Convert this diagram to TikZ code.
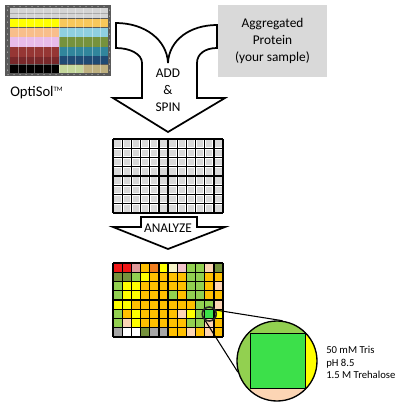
\documentclass[tikz,border=0pt]{standalone}
\usepackage{fontspec}
\setmainfont{Carlito}
\usepackage{tikz}
% colours of the screenshot
\definecolor{optiframe}{HTML}{5A5A5A}
\definecolor{optihead}{HTML}{D4D4D4}
\definecolor{optigold}{HTML}{F8C85A}
\definecolor{optipeach}{HTML}{F8BE8C}
\definecolor{optiblue}{HTML}{8FCFE0}
\definecolor{optipink}{HTML}{E8BCEA}
\definecolor{optiolive}{HTML}{76923C}
\definecolor{optired}{HTML}{963634}
\definecolor{optidred}{HTML}{78282A}
\definecolor{optiteal}{HTML}{31859C}
\definecolor{optinavy}{HTML}{1F4A74}
\definecolor{optikhaki}{HTML}{C4D79B}
\definecolor{optitan}{HTML}{BFB180}
% colours of the wells
\definecolor{wellR}{HTML}{F01818}
\definecolor{wellPk}{HTML}{DE9A9A}
\definecolor{wellO}{HTML}{FFC000}
\definecolor{wellOd}{HTML}{F07E1E}
\definecolor{wellY}{HTML}{FFFF00}
\definecolor{wellCr}{HTML}{F6F4C8}
\definecolor{wellLp}{HTML}{F2C4CC}
\definecolor{wellG}{HTML}{92D050}
\definecolor{wellPe}{HTML}{FCD5B4}
\definecolor{wellOl}{HTML}{76923C}
\definecolor{wellBG}{HTML}{3CE04A}
\definecolor{wellGr}{HTML}{A6A6A6}
\definecolor{wellW}{HTML}{FFFFFF}
\definecolor{samplegray}{HTML}{D9D9D9}
\newcommand{\plategrid}[1]{
  \foreach \k in {0,...,12}
    \draw[wellline] ({113+\k*110/12},#1) -- ({113+\k*110/12},#1+74);
  \foreach \r in {0,...,8}
    \draw[wellline] (113,{#1+\r*74/8}) -- (223,{#1+\r*74/8});
}

\begin{document}
\begin{tikzpicture}[x=0.75pt,y=-0.75pt,
    wellline/.style={line width=1pt,black},
    bigarrow/.style={draw=black,line width=1.3pt,fill=white,line join=miter},
    label/.style={font=\fontsize{10}{12.8}\selectfont,align=center,inner sep=0pt},
    zoomline/.style={line width=0.8pt,black}]
    \useasboundingbox (0,0) rectangle (400,404);

    % OptiSol screenshot
    \fill[optiframe] (5,5) rectangle (111,76);
    \fill[optihead] (10,8) rectangle (108,18);
    \fill[optihead!80!black] (10,13) rectangle (108,13.6);
    \fill[wellY] (10,19) rectangle (59,27);
    \fill[optigold] (59,19) rectangle (108,27);
    \fill[optipeach] (10,28) rectangle (59,36.5);
    \fill[optiblue] (59,28) rectangle (108,36.5);
    \fill[optipink] (10,37) rectangle (59,46.5);
    \fill[optiolive] (59,37) rectangle (108,46.5);
    \fill[optired] (10,47) rectangle (59,57);
    \fill[optidred] (10,57) rectangle (59,64);
    \fill[optiteal] (59,47) rectangle (108,56);
    \fill[optinavy] (59,56) rectangle (108,64);
    \fill[black] (10,65) rectangle (59,73);
    \fill[optikhaki] (59,65) rectangle (83,73);
    \fill[optitan] (83,65) rectangle (108,73);
    \foreach \k in {1,...,11}
      \draw[white,opacity=0.35,line width=0.2pt] ({10+\k*98/12},8) -- ({10+\k*98/12},73);
    \foreach \d in {8,14,...,104} {
      \fill[white!80!gray] (\d,6.5) circle (0.5);
      \fill[white!80!gray] (\d,74.5) circle (0.5);
    }
    \foreach \d in {10,16,...,70} {
      \fill[white!80!gray] (7.5,\d) circle (0.5);
      \fill[white!80!gray] (109.5,\d) circle (0.5);
    }
    \node[anchor=west,inner sep=0pt,font=\fontsize{11}{13}\selectfont] (optisol) at (10,93) {OptiSol\textsuperscript{\tiny TM}};

    % sample box
    \node[fill=samplegray,minimum width=81.75pt,minimum height=54pt,label] (sample) at (272.5,41) {Aggregated\\Protein\\(your sample)};

    % add and spin arrow
    \draw[bigarrow] (116,23) -- (116,48) .. controls (130,48) and (142,54) .. (142,63)
      -- (142,98) -- (113,98) -- (168,132) -- (225,98) -- (197,98) -- (197,63)
      .. controls (197,54) and (205,48) .. (217,48) -- (217,25)
      .. controls (190,25) and (169,40) .. (168,63)
      .. controls (167,40) and (145,23) .. (116,23) -- cycle;
    \node[label] (addspin) at (168,90.5) {ADD\\\&\\SPIN};

    % empty plate
    \fill[white] (113,139) rectangle (223,213);
    \foreach \r in {1,...,8}
      \foreach \k in {1,...,12}
        \fill[samplegray] ({113+(\k-1)*110/12+1.4},{139+(\r-1)*74/8+1.4}) rectangle ++({110/12-2.8},{74/8-2.8});
    \plategrid{139}

    % analyze arrow
    \draw[bigarrow] (141,217) -- (197,217) -- (197,227) -- (225,227) -- (168,249)
      -- (113,227) -- (141,227) -- cycle;
    \node[label] (analyze) at (168,228) {ANALYZE};

    % result plate
    \foreach \row [count=\r] in {{R,R,Pk,O,Od,Y,Cr,Lp,G,G,Pe,Ol},
        {Ol,Ol,G,Y,O,O,O,O,G,G,O,O},
        {G,Y,Y,O,O,O,O,O,G,G,O,Pe},
        {G,Y,Y,O,O,O,G,O,G,G,O,O},
        {Y,Y,O,O,O,O,O,O,O,G,G,Pe},
        {G,O,Y,O,O,O,O,Pe,Y,G,BG,Y},
        {G,Pe,Y,O,O,O,O,O,G,G,Pe,O},
        {Gr,W,W,Ol,Gr,Gr,O,O,Pe,O,Pe,O}}
      \foreach \c [count=\k] in \row
        \fill[well\c] ({113+(\k-1)*110/12},{263+(\r-1)*74/8}) rectangle ++({110/12},{74/8});
    \plategrid{263}
    \node[circle,draw=black!85,line width=1.2pt,minimum size=10.5pt,inner sep=0pt] (zoomsrc) at (209.25,314) {};

    % magnified well
    \begin{scope}
      \clip (277,361) circle (40);
      \fill[wellG] (230,315) rectangle (251,410);
      \fill[wellG] (230,315) rectangle (330,334);
      \fill[wellY] (305,315) rectangle (330,410);
      \fill[wellPe] (251,388) rectangle (305,410);
    \end{scope}
    \filldraw[fill=wellBG,draw=black,line width=1.2pt] (250.5,333.5) rectangle (305.5,388.5);
    \node[circle,draw=black,line width=1pt,minimum size=60pt,inner sep=0pt] (zoomview) at (277,361) {};
    \draw[zoomline] (zoomsrc.30) -- (zoomview.82);
    \draw[zoomline] (zoomsrc.240) -- (zoomview.196);
    \node[anchor=west,align=left,inner sep=0pt,font=\fontsize{8}{9.4}\selectfont] (buffer) at (326,362.5) {50 mM Tris\\pH 8.5\\1.5 M Trehalose};
\end{tikzpicture}
\end{document}
